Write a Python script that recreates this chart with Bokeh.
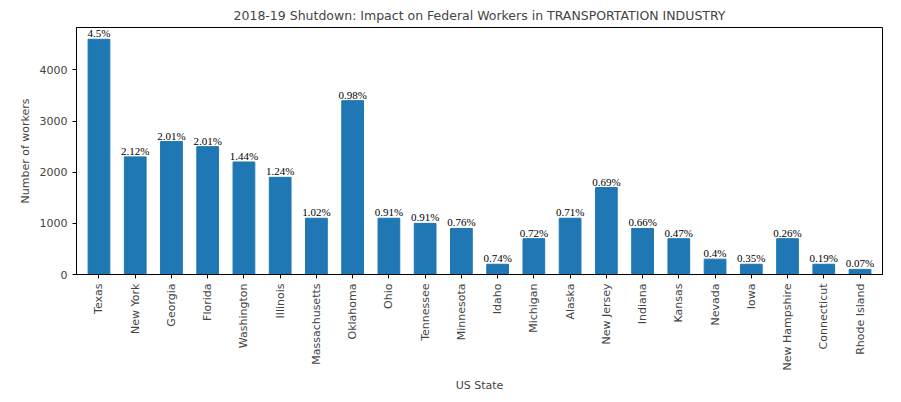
from bokeh.plotting import figure
from bokeh.models import ColumnDataSource, FixedTicker, LabelSet, FactorRange
from bokeh.embed import file_html
from bokeh.resources import INLINE

states = ["Texas", "New York", "Georgia", "Florida", "Washington", "Illinois", "Massachusetts",
          "Oklahoma", "Ohio", "Tennessee", "Minnesota", "Idaho", "Michigan", "Alaska",
          "New Jersey", "Indiana", "Kansas", "Nevada", "Iowa", "New Hampshire",
          "Connecticut", "Rhode Island"]
workers = [4600, 2300, 2600, 2500, 2200, 1900, 1100, 3400, 1100, 1000, 900, 200, 700, 1100,
           1700, 900, 700, 300, 200, 700, 200, 100]
pct = ["4.5%", "2.12%", "2.01%", "2.01%", "1.44%", "1.24%", "1.02%", "0.98%", "0.91%", "0.91%",
       "0.76%", "0.74%", "0.72%", "0.71%", "0.69%", "0.66%", "0.47%", "0.4%", "0.35%", "0.26%",
       "0.19%", "0.07%"]

source = ColumnDataSource(dict(x=states, top=workers, label=pct))

xr = FactorRange(factors=states, range_padding=0.12, range_padding_units="absolute")
p = figure(x_range=xr, y_range=(0, 4830), width=885, height=394,
           title="2018-19 Shutdown: Impact on Federal Workers in TRANSPORTATION INDUSTRY",
           x_axis_label="US State", y_axis_label="Number of workers",
           output_backend="svg", toolbar_location=None,
           min_border_left=76, min_border_right=3, min_border_top=8, min_border_bottom=4)
p.vbar(x="x", top="top", width=0.6, color="#1f77b4", source=source)
p.add_layout(LabelSet(x="x", y="top", text="label", source=source, text_align="center",
                      text_baseline="bottom", text_font_size="11px", text_color="black",
                      text_font="DejaVu Sans"))

p.title.align = "center"
p.title.text_font_size = "12.5px"
p.title.text_font_style = "normal"
p.title.text_font = "DejaVu Sans"
p.xgrid.grid_line_color = None
p.ygrid.grid_line_color = None
p.outline_line_color = "black"
p.yaxis.ticker = FixedTicker(ticks=[0, 1000, 2000, 3000, 4000])
p.xaxis.major_label_orientation = 1.5708
for ax in (p.xaxis, p.yaxis):
    ax.major_label_text_font_size = "11px"
    ax.major_label_text_font = "DejaVu Sans"
    ax.axis_label_text_font_size = "11px"
    ax.axis_label_text_font_style = "normal"
    ax.axis_label_text_font = "DejaVu Sans"
    ax.minor_tick_line_color = None
    ax.major_tick_in = 0
    ax.major_tick_out = 4
    ax.axis_line_color = "black"

open("out.html", "w").write(file_html(p, INLINE))
